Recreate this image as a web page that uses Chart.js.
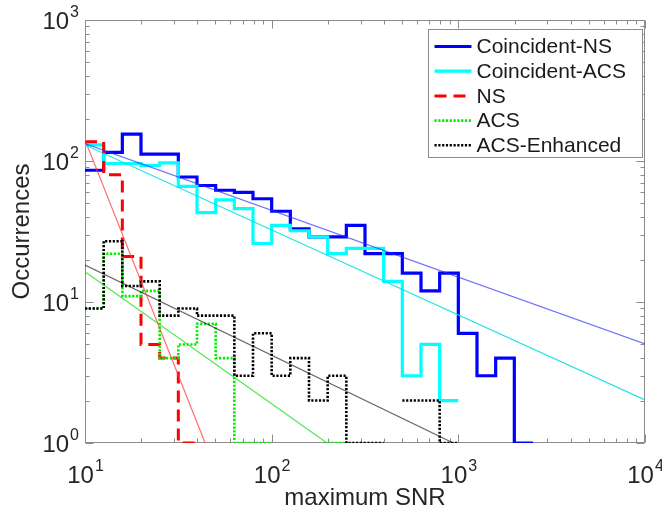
<!DOCTYPE html>
<html>
<head>
<meta charset="utf-8">
<script src="https://cdn.jsdelivr.net/npm/chart.js@4.4.0/dist/chart.umd.min.js"></script>
<style>
  html, body { margin: 0; padding: 0; background: #fff; }
</style>
</head>
<body>
<canvas id="snrChart" width="662" height="516"></canvas>
<script>
// bin edges, 0.1 decade wide, starting at SNR = 10
const binEdges = [10, 12.59, 15.85, 19.95, 25.12, 31.62, 39.81, 50.12, 63.1, 79.43,
                  100, 125.9, 158.5, 199.5, 251.2, 316.2, 398.1, 501.2, 631, 794.3,
                  1000, 1259, 1585, 1995, 2512];

// counts per bin (0 = empty bin, not drawn on the log axis)
const coincNS  = [86, 115, 155, 112, 112, 77, 67, 62, 60, 54, 44, 33, 29, 29, 35, 22, 22, 16, 12, 16, 6, 3, 4, 1];
const coincACS = [130, 96, 96, 93, 97, 66, 43, 53, 46, 26, 35, 32, 29, 22, 24, 24, 14, 3, 5, 2];
const nsCounts = [137, 80, 21, 5, 4, 1];
const acsCounts = [9, 22, 11, 12, 4, 5, 7, 4, 1, 1, 0, 0, 0, 1];
const acsEnhCounts = [9, 27, 13, 14, 8, 9, 8, 8, 3, 6, 3, 4, 2, 3, 1, 1, 0, 2, 2, 1];

// power-law fit lines, [snr, occurrences] end points
const fitCoincNS  = [[10, 133], [10000, 5.05]];
const fitCoincACS = [[10, 130], [10000, 2.02]];
const fitNS       = [[10, 141], [44, 1]];
const fitACS      = [[10, 16.4], [198, 1]];
const fitACSEnh   = [[10, 18.3], [940, 1]];

const xDecades = [10, 100, 1000, 10000];
const yDecades = [1, 10, 100, 1000];

const FONT = '"Liberation Sans", Arial, Helvetica, sans-serif';

// turn bin counts into stair points; empty bins break the line
function stairs(counts) {
    const pts = [];
    counts.forEach((c, i) => {
        if (c > 0) {
            pts.push({ x: binEdges[i], y: c });
            pts.push({ x: binEdges[i + 1], y: c });
        } else {
            pts.push({ x: binEdges[i], y: null });
        }
    });
    return pts;
}

function histSet(label, counts, color, dash, width, order) {
    return {
        label: label,
        data: stairs(counts),
        borderColor: color,
        borderWidth: width,
        borderDash: dash,
        borderCapStyle: 'butt',
        borderJoinStyle: 'miter',
        pointRadius: 0,
        fill: false,
        order: order,
        legendEntry: true
    };
}

function fitSet(points, color) {
    return {
        label: '',
        data: points.map(p => ({ x: p[0], y: p[1] })),
        borderColor: color,
        borderWidth: 1.2,
        pointRadius: 0,
        fill: false,
        order: 0,
        legendEntry: false
    };
}

function isDecade(v) {
    const l = Math.log10(v);
    return Math.abs(l - Math.round(l)) < 1e-6;
}

// draw "10" with a raised exponent
function drawPower(ctx, value, x, y, align) {
    const exp = String(Math.round(Math.log10(value)));
    ctx.font = '24px ' + FONT;
    const wb = ctx.measureText('10').width;
    ctx.font = '16px ' + FONT;
    const we = ctx.measureText(exp).width;
    const left = align === 'right' ? x - wb - we : x - (wb + we) / 2;
    ctx.textAlign = 'left';
    ctx.textBaseline = 'alphabetic';
    ctx.font = '24px ' + FONT;
    ctx.fillText('10', left, y);
    ctx.font = '16px ' + FONT;
    ctx.fillText(exp, left + wb + 1, y - 12);
}

// axes box, inward ticks, tick labels and titles (drawn under the data)
const framePlugin = {
    id: 'frame',
    beforeDatasetsDraw(chart) {
        const { ctx, chartArea: a, scales } = chart;
        const xs = scales.x, ys = scales.y;
        ctx.save();
        ctx.strokeStyle = '#8c8c8c';
        ctx.lineWidth = 1;
        const L = Math.round(a.left) + 0.5, R = Math.round(a.right) - 0.5;
        const T = Math.round(a.top) + 0.5, B = Math.round(a.bottom) - 0.5;
        ctx.strokeRect(L, T, R - L, B - T);

        ctx.beginPath();
        for (let d = 0; d < xDecades.length; d++) {
            for (let m = 1; m <= 9; m++) {
                const v = xDecades[d] * m;
                if (v > xDecades[xDecades.length - 1]) break;
                const px = Math.round(xs.getPixelForValue(v)) + 0.5;
                const len = m === 1 ? 8 : 4;
                ctx.moveTo(px, B); ctx.lineTo(px, B - len);
                ctx.moveTo(px, T); ctx.lineTo(px, T + len);
            }
        }
        for (let d = 0; d < yDecades.length; d++) {
            for (let m = 1; m <= 9; m++) {
                const v = yDecades[d] * m;
                if (v > yDecades[yDecades.length - 1]) break;
                const py = Math.round(ys.getPixelForValue(v)) + 0.5;
                const len = m === 1 ? 8 : 4;
                ctx.moveTo(L, py); ctx.lineTo(L + len, py);
                ctx.moveTo(R, py); ctx.lineTo(R - len, py);
            }
        }
        ctx.stroke();

        ctx.fillStyle = '#262626';
        xDecades.forEach(v => drawPower(ctx, v, xs.getPixelForValue(v), a.bottom + 40, 'center'));
        yDecades.forEach(v => drawPower(ctx, v, a.left - 7, ys.getPixelForValue(v) + 9, 'right'));

        ctx.font = '24px ' + FONT;
        ctx.textAlign = 'center';
        ctx.textBaseline = 'middle';
        ctx.fillText('maximum SNR', (a.left + a.right) / 2, a.bottom + 55 + 0);
        ctx.save();
        ctx.translate(22, (a.top + a.bottom) / 2);
        ctx.rotate(-Math.PI / 2);
        ctx.fillText('Occurrences', 0, 0);
        ctx.restore();
        ctx.restore();
    }
};

// boxed legend in the upper right corner of the plot
const legendPlugin = {
    id: 'boxLegend',
    afterDraw(chart) {
        const { ctx, chartArea: a } = chart;
        const items = chart.data.datasets.filter(ds => ds.legendEntry);
        const w = 214, rowH = 24.7;
        const h = 128;
        const left = Math.round(a.right - 3 - w) + 0.5;
        const top = Math.round(a.top + 9) + 0.5;
        ctx.save();
        ctx.fillStyle = '#fff';
        ctx.fillRect(left, top, w, h);
        ctx.strokeStyle = '#8c8c8c';
        ctx.lineWidth = 1;
        ctx.strokeRect(left, top, w, h);
        ctx.font = '21px ' + FONT;
        ctx.textBaseline = 'middle';
        ctx.textAlign = 'left';
        items.forEach((ds, i) => {
            const cy = top + 17 + i * rowH;
            ctx.beginPath();
            ctx.strokeStyle = ds.borderColor;
            ctx.lineWidth = ds.borderWidth;
            ctx.setLineDash(ds.borderDash || []);
            ctx.lineCap = 'butt';
            ctx.moveTo(left + 6, cy);
            ctx.lineTo(left + 43, cy);
            ctx.stroke();
            ctx.setLineDash([]);
            ctx.fillStyle = '#1a1a1a';
            ctx.fillText(ds.label, left + 48, cy + 1);
        });
        ctx.restore();
    }
};

const snrChart = new Chart(document.getElementById('snrChart').getContext('2d'), {
    type: 'line',
    data: {
        datasets: [
            histSet('Coincident-NS', coincNS, '#0000ff', [], 3.2, 5),
            histSet('Coincident-ACS', coincACS, '#00ffff', [], 3.2, 4),
            histSet('NS', nsCounts, '#ff0000', [12, 7], 3, 3),
            histSet('ACS', acsCounts, '#00ee00', [2.2, 1.6], 2.6, 2),
            histSet('ACS-Enhanced', acsEnhCounts, '#000000', [2.2, 1.6], 2.6, 1),
            fitSet(fitCoincNS, 'rgba(40,40,255,0.65)'),
            fitSet(fitCoincACS, 'rgba(0,225,225,0.9)'),
            fitSet(fitNS, 'rgba(255,60,60,0.75)'),
            fitSet(fitACS, 'rgba(40,225,40,0.8)'),
            fitSet(fitACSEnh, 'rgba(0,0,0,0.6)')
        ]
    },
    options: {
        responsive: false,
        animation: false,
        devicePixelRatio: 1,
        layout: { padding: { left: 85, right: 17, top: 20, bottom: 73 } },
        scales: {
            x: { type: 'logarithmic', min: 10, max: 10000, display: false },
            y: { type: 'logarithmic', min: 1, max: 1000, display: false }
        },
        plugins: {
            legend: { display: false },
            tooltip: { enabled: false }
        }
    },
    plugins: [framePlugin, legendPlugin]
});
</script>
</body>
</html>
